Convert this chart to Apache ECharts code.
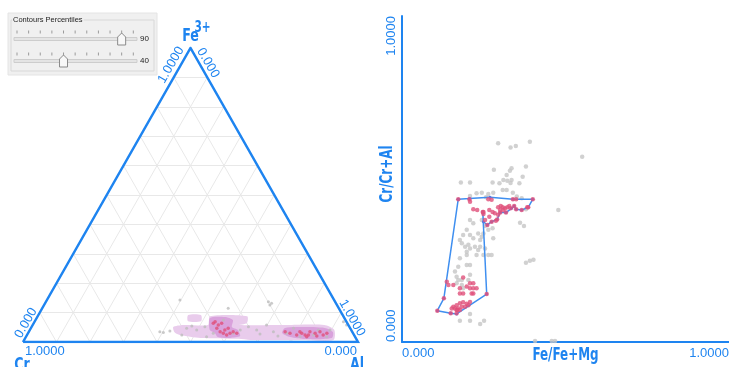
<!DOCTYPE html>
<html><head><meta charset="utf-8">
<script src="https://cdn.jsdelivr.net/npm/echarts@6/dist/echarts.min.js"></script>
<style>html,body{margin:0;padding:0;background:#fff}#c{width:729px;height:367px}</style>
</head><body><div id="c"></div>
<script>
// ---------- DATA ----------
// Ternary compositions [Cr, Al, Fe3+]
const ternaryTicks = [0.1,0.2,0.3,0.4,0.5,0.6,0.7,0.8,0.9];
const ternaryGrey = [[0.460,0.397,0.143],[0.330,0.555,0.115],[0.200,0.674,0.126],[0.574,0.391,0.035],[0.565,0.403,0.032],[0.009,0.922,0.069],[0.005,0.937,0.058],[0.488,0.465,0.047],[0.461,0.498,0.041],[0.431,0.517,0.052],[0.417,0.553,0.030],[0.301,0.647,0.052],[0.282,0.677,0.041],[0.244,0.698,0.058],[0.235,0.730,0.035],[0.198,0.772,0.030],[0.164,0.818,0.018],[0.121,0.855,0.024],[0.084,0.898,0.018],[0.514,0.462,0.024],[0.357,0.613,0.030],[0.331,0.628,0.041],[0.443,0.539,0.018],[0.169,0.784,0.047],[0.098,0.861,0.041],[0.364,0.561,0.075],[0.192,0.676,0.132],[0.199,0.664,0.137],[0.543,0.420,0.037],[0.469,0.477,0.054],[0.279,0.694,0.027],[0.229,0.751,0.020],[0.063,0.896,0.041]];
const ternaryPink = [[0.400,0.536,0.064],[0.388,0.554,0.058],[0.375,0.561,0.064],[0.398,0.555,0.047],[0.394,0.571,0.035],[0.387,0.583,0.030],[0.380,0.596,0.024],[0.367,0.603,0.030],[0.355,0.610,0.035],[0.347,0.623,0.030],[0.377,0.582,0.041],[0.392,0.539,0.069],[0.364,0.589,0.047],[0.200,0.765,0.035],[0.188,0.782,0.030],[0.171,0.805,0.024],[0.153,0.817,0.030],[0.146,0.830,0.024],[0.126,0.839,0.035],[0.113,0.857,0.030],[0.096,0.869,0.035],[0.092,0.884,0.024],[0.113,0.867,0.020],[0.144,0.838,0.018],[0.078,0.892,0.030],[0.156,0.809,0.035],[0.136,0.840,0.024]];
const contourOuter = [
  [[0.526,0.423,0.051],[0.493,0.450,0.058],[0.419,0.524,0.058],[0.398,0.514,0.088],[0.287,0.625,0.088],[0.299,0.636,0.065],[0.325,0.617,0.058],[0.201,0.741,0.058],[0.176,0.766,0.058],[0.072,0.870,0.058],[0.050,0.908,0.042],[0.070,0.923,0.007],[0.168,0.825,0.007],[0.317,0.676,0.007],[0.351,0.638,0.011],[0.463,0.523,0.014],[0.520,0.456,0.024],[0.531,0.437,0.032]],
  [[0.461,0.447,0.092],[0.423,0.485,0.092],[0.433,0.496,0.071],[0.472,0.457,0.071]]
];
const contourInner = [
  [[0.401,0.517,0.082],[0.355,0.560,0.085],[0.336,0.589,0.075],[0.351,0.598,0.051],[0.338,0.621,0.041],[0.342,0.638,0.020],[0.375,0.611,0.014],[0.410,0.573,0.017],[0.412,0.557,0.031],[0.422,0.537,0.041]],
  [[0.194,0.758,0.048],[0.148,0.801,0.051],[0.075,0.877,0.048],[0.058,0.908,0.034],[0.071,0.915,0.014],[0.153,0.837,0.010],[0.194,0.789,0.017],[0.211,0.758,0.031]]
];
const percentiles = [90, 40];
const percentileTicks = [0,10,20,30,40,50,60,70,80,90,100];

// Binary plot [Fe/Fe+Mg, Cr/Cr+Al]
const binaryGrey = [[0.294,0.610],[0.332,0.597],[0.348,0.601],[0.391,0.614],[0.551,0.568],[0.281,0.528],[0.335,0.533],[0.330,0.525],[0.379,0.538],[0.320,0.512],[0.369,0.507],[0.180,0.489],[0.208,0.489],[0.277,0.489],[0.298,0.487],[0.310,0.497],[0.322,0.495],[0.335,0.497],[0.332,0.488],[0.359,0.487],[0.228,0.456],[0.244,0.458],[0.264,0.454],[0.279,0.458],[0.308,0.466],[0.320,0.466],[0.339,0.458],[0.208,0.448],[0.351,0.446],[0.366,0.441],[0.257,0.444],[0.478,0.405],[0.379,0.407],[0.361,0.366],[0.373,0.356],[0.208,0.374],[0.218,0.364],[0.244,0.374],[0.254,0.356],[0.264,0.344],[0.249,0.333],[0.244,0.323],[0.277,0.349],[0.279,0.318],[0.198,0.344],[0.208,0.328],[0.218,0.318],[0.187,0.328],[0.177,0.313],[0.233,0.333],[0.239,0.313],[0.193,0.292],[0.203,0.298],[0.208,0.287],[0.198,0.277],[0.223,0.292],[0.233,0.282],[0.239,0.292],[0.183,0.303],[0.254,0.287],[0.264,0.267],[0.274,0.267],[0.198,0.267],[0.228,0.267],[0.249,0.267],[0.177,0.257],[0.172,0.231],[0.198,0.236],[0.208,0.236],[0.162,0.216],[0.167,0.200],[0.208,0.206],[0.379,0.243],[0.391,0.249],[0.402,0.252],[0.172,0.190],[0.183,0.190],[0.167,0.180],[0.183,0.175],[0.187,0.165],[0.203,0.190],[0.177,0.065],[0.208,0.065],[0.239,0.055],[0.251,0.065],[0.208,0.086],[0.407,0.003],[0.458,0.003],[0.468,0.003]];
const binaryPink = [[0.172,0.438],[0.206,0.438],[0.208,0.430],[0.264,0.438],[0.274,0.436],[0.339,0.438],[0.349,0.438],[0.400,0.438],[0.218,0.407],[0.230,0.405],[0.249,0.399],[0.267,0.405],[0.277,0.399],[0.294,0.413],[0.302,0.417],[0.308,0.413],[0.315,0.410],[0.322,0.413],[0.328,0.417],[0.332,0.410],[0.310,0.405],[0.300,0.405],[0.284,0.395],[0.294,0.390],[0.267,0.384],[0.254,0.374],[0.274,0.369],[0.287,0.372],[0.300,0.397],[0.349,0.407],[0.366,0.405],[0.383,0.413],[0.343,0.417],[0.318,0.397],[0.249,0.393],[0.247,0.399],[0.386,0.413],[0.291,0.376],[0.261,0.359],[0.137,0.185],[0.142,0.175],[0.157,0.175],[0.187,0.198],[0.208,0.180],[0.218,0.180],[0.198,0.170],[0.177,0.165],[0.208,0.165],[0.218,0.165],[0.228,0.165],[0.187,0.149],[0.213,0.149],[0.218,0.149],[0.177,0.149],[0.259,0.147],[0.128,0.134],[0.157,0.108],[0.167,0.113],[0.177,0.119],[0.187,0.122],[0.198,0.117],[0.183,0.108],[0.172,0.103],[0.162,0.103],[0.193,0.108],[0.203,0.113],[0.152,0.103],[0.167,0.098],[0.177,0.098],[0.208,0.123],[0.108,0.096],[0.149,0.088],[0.167,0.088],[0.169,0.098]];
const hull = [[0.172,0.438],[0.206,0.440],[0.269,0.444],[0.340,0.438],[0.400,0.438],[0.386,0.413],[0.366,0.405],[0.349,0.407],[0.343,0.417],[0.335,0.410],[0.318,0.397],[0.300,0.397],[0.291,0.376],[0.274,0.369],[0.261,0.359],[0.249,0.369],[0.247,0.399],[0.259,0.147],[0.167,0.086],[0.149,0.088],[0.108,0.096],[0.128,0.134],[0.172,0.438]];
const xTickLabels = ['0.000','1.0000'];
const yTickLabels = ['0.000','1.0000'];
const ternaryTickLabels = ['0.000','1.0000'];
const xName = 'Fe/Fe+Mg', yName = 'Cr/Cr+Al';

// ---------- STYLE / HELPERS ----------
const BLUE = '#1e84f0';
const TICKFONT = "'Liberation Sans', Arial, sans-serif";
const NAMEFONT = "'DejaVu Sans Condensed', 'DejaVu Sans', sans-serif";
function tc(p){ const s=p[0]+p[1]+p[2]; const al=p[1]/s, fe=p[2]/s; return [al+fe/2, fe]; }

const gridLines = [];
ternaryTicks.forEach(t=>{
  gridLines.push({coords:[tc([1-t,0,t]), tc([0,1-t,t])]});
  gridLines.push({coords:[tc([1-t,t,0]), tc([0,t,1-t])]});
  gridLines.push({coords:[tc([t,1-t,0]), tc([t,0,1-t])]});
});
function polySeries(polys, color, z){
  return {type:'custom', coordinateSystem:'cartesian2d', xAxisIndex:0, yAxisIndex:0, z:z, silent:true, clip:false,
    data: polys.map(p=>tc(p[0])),
    renderItem:function(params, api){
      const pts = polys[params.dataIndex].map(p=>api.coord(tc(p)));
      return {type:'polygon', shape:{points:pts, smooth:0.25}, style:{fill:color}};
    }};
}

const chart = echarts.init(document.getElementById('c'));
chart.setOption({
  animation:false,
  grid:[{left:23, top:48, width:335, height:294, outerBoundsMode:'none'}, {left:402, top:16, right:0, bottom:25, outerBoundsMode:'none'}],
  xAxis:[
    {gridIndex:0, type:'value', min:0, max:1, show:false},
    {gridIndex:1, type:'value', min:0, max:1, interval:1,
      axisLine:{show:true, lineStyle:{color:BLUE, width:2}}, axisTick:{show:false}, splitLine:{show:false},
      axisLabel:{color:BLUE, fontSize:13, fontFamily:TICKFONT, margin:5, alignMinLabel:'left', alignMaxLabel:'right',
        formatter:v=> v===0?xTickLabels[0]:xTickLabels[1]}}
  ],
  yAxis:[
    {gridIndex:0, type:'value', min:0, max:1, show:false},
    {gridIndex:1, type:'value', min:0, max:1, interval:1,
      axisLine:{show:true, lineStyle:{color:BLUE, width:2}}, axisTick:{show:false}, splitLine:{show:false},
      axisLabel:{color:BLUE, fontSize:13, fontFamily:TICKFONT, margin:4, rotate:90, alignMinLabel:'left', alignMaxLabel:'right',
        formatter:v=> v===0?yTickLabels[0]:yTickLabels[1]}}
  ],
  series:[
    {type:'lines', coordinateSystem:'cartesian2d', xAxisIndex:0, yAxisIndex:0, data:gridLines, silent:true, z:1,
      lineStyle:{color:'#e8e8e8', width:1, opacity:1}},
    polySeries(contourOuter, '#e9ccec', 2),
    polySeries(contourInner, '#d9a2dc', 3),
    {type:'scatter', xAxisIndex:0, yAxisIndex:0, data:ternaryGrey.map(tc), symbolSize:3, z:4, silent:true,
      itemStyle:{color:'#bdbdbd'}},
    {type:'scatter', xAxisIndex:0, yAxisIndex:0, data:ternaryPink.map(tc), symbolSize:3.5, z:5, silent:true,
      itemStyle:{color:'#e0507a'}},
    {type:'line', xAxisIndex:0, yAxisIndex:0, data:[tc([1,0,0]),tc([0,1,0]),tc([0,0,1]),tc([1,0,0])], symbol:'none', z:6, silent:true,
      lineStyle:{color:BLUE, width:2.5, join:'miter'}},
    {type:'scatter', xAxisIndex:1, yAxisIndex:1, data:binaryGrey, symbolSize:4.5, z:4, silent:true,
      itemStyle:{color:'#c6c6c6'}},
    {type:'line', xAxisIndex:1, yAxisIndex:1, data:hull, symbol:'circle', symbolSize:3, z:5, silent:true,
      lineStyle:{color:'#3f8ff0', width:1.5}, itemStyle:{color:'#5a78e0'}},
    {type:'scatter', xAxisIndex:1, yAxisIndex:1, data:binaryPink, symbolSize:4.5, z:6, silent:true,
      itemStyle:{color:'#e0507a'}}
  ]
});

// ---------- Labels & panel ----------
const pA = chart.convertToPixel({gridIndex:0}, tc([0,0,1]));
const pL = chart.convertToPixel({gridIndex:0}, tc([1,0,0]));
const pR = chart.convertToPixel({gridIndex:0}, tc([0,1,0]));
const bX = chart.convertToPixel({gridIndex:1}, [0.5, 0]);
const bY = chart.convertToPixel({gridIndex:1}, [0, 0.5]);
function txt(x,y,text,opt){
  return Object.assign({type:'text', x:x, y:y, silent:true, style:Object.assign({text:text, fill:BLUE, font:'13px '+TICKFONT, align:'center', verticalAlign:'middle'}, opt.style||{})}, opt.el||{});
}
const bold = s => 'bold '+s+'px '+NAMEFONT;
const SX = 0.78;
const g = [];
g.push(txt(pA[0], pA[1]-12, 'Fe', {style:{font:bold(18)}, el:{scaleX:SX}}));
g.push(txt(pA[0]+12, pA[1]-20, '3+', {style:{font:bold(15)}, el:{scaleX:SX}}));
g.push(txt(pA[0]-19.5, pA[1]+17, ternaryTickLabels[1], {el:{rotation:Math.PI/3}}));
g.push(txt(pA[0]+17.5, pA[1]+15, ternaryTickLabels[0], {el:{rotation:-Math.PI/3}}));
g.push(txt(pL[0]+3, pL[1]-19, ternaryTickLabels[0], {el:{rotation:Math.PI/3}}));
g.push(txt(pL[0]+2, pL[1]+9, ternaryTickLabels[1], {style:{align:'left'}}));
g.push(txt(pL[0]-1, pL[1]+14, 'Cr', {style:{font:bold(18), verticalAlign:'top'}, el:{scaleX:SX}}));
g.push(txt(pR[0]-6, pR[1]-24, ternaryTickLabels[1], {el:{rotation:-Math.PI/3}}));
g.push(txt(pR[0]-1, pR[1]+9, ternaryTickLabels[0], {style:{align:'right'}}));
g.push(txt(pR[0]-1, pR[1]+14, 'Al', {style:{font:bold(18), verticalAlign:'top'}, el:{scaleX:SX}}));
// axis names of the binary plot
g.push(txt(bX[0], bX[1]+14, xName, {style:{font:bold(17)}, el:{scaleX:SX}}));
g.push(txt(bY[0]-14, bY[1]-5, yName, {style:{font:bold(17)}, el:{rotation:Math.PI/2, scaleX:SX}}));

// Percentile panel
g.push({type:'rect', silent:true, shape:{x:8,y:13,width:149,height:62}, style:{fill:'#f0f0f0', stroke:'#e4e4e4'}});
g.push({type:'rect', silent:true, shape:{x:11,y:20,width:143,height:51}, style:{fill:null, stroke:'#d8d8d8'}});
g.push({type:'text', silent:true, x:12, y:20, style:{text:'Contours Percentiles', fill:'#222', font:'7.5px '+TICKFONT, backgroundColor:'#f0f0f0', padding:[0,1], verticalAlign:'middle'}});
percentiles.forEach((val,i)=>{
  const ty = 32 + i*22, tr = 39 + i*22;
  percentileTicks.forEach(t=>{
    const x = 17 + t*1.163;
    g.push({type:'line', silent:true, shape:{x1:x,y1:ty-1.5,x2:x,y2:ty+1.5}, style:{stroke:'#9a9a9a', lineWidth:1}});
  });
  g.push({type:'rect', silent:true, shape:{x:14,y:tr-1.5,width:123,height:3}, style:{fill:'#e4e4e4', stroke:'#cdcdcd'}});
  const hx = 17 + val*1.163;
  g.push({type:'polygon', silent:true, shape:{points:[[hx-4,tr+6],[hx-4,tr-2],[hx,tr-6],[hx+4,tr-2],[hx+4,tr+6]]}, style:{fill:'#f8f8f8', stroke:'#8a8a8a'}});
  g.push({type:'text', silent:true, x:140, y:tr, style:{text:String(val), fill:'#222', font:'8px '+TICKFONT, verticalAlign:'middle'}});
});
chart.setOption({graphic:g});
</script></body></html>
